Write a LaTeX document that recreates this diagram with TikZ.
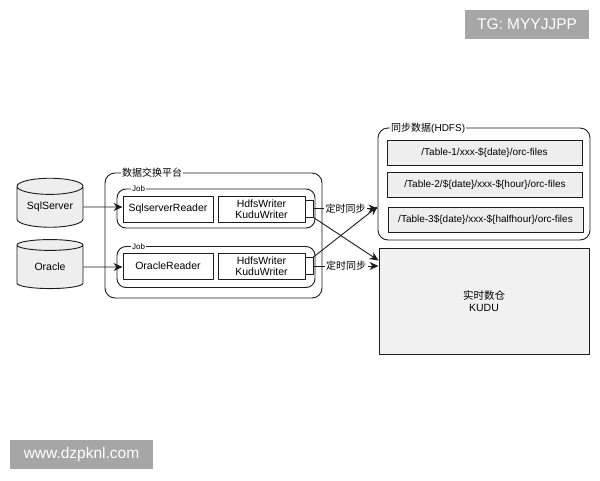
\documentclass[tikz,border=0pt]{standalone}
\usepackage{fontspec}
\setmainfont{Liberation Sans}
\newfontfamily\cjk{Noto Sans CJK SC}
\usetikzlibrary{arrows.meta,positioning,shapes.geometric}
\definecolor{edge}{RGB}{28,28,28}
\definecolor{paleg}{RGB}{238,238,238}
\definecolor{kudug}{RGB}{241,241,241}
\definecolor{markg}{RGB}{166,166,166}
\tikzset{
  panel/.style={draw=edge,line width=0.9pt,rounded corners=10pt,inner sep=0pt},
  tag/.style={fill=white,inner sep=1pt,anchor=west,font=\cjk\fontsize{10}{12}\selectfont},
  cell/.style={draw=edge,line width=0.9pt,fill=white,inner sep=0pt,minimum height=26pt,align=center,font=\fontsize{10.5}{11.5}\selectfont},
  port/.style={draw=edge,line width=0.9pt,fill=white,inner sep=0pt,minimum width=8pt,minimum height=17pt},
  filebox/.style={draw=edge,line width=0.9pt,fill=paleg,inner sep=0pt,minimum width=195pt,minimum height=25pt,font=\fontsize{10}{12}\selectfont},
  db/.style={cylinder,shape border rotate=90,aspect=0.35,draw=edge,line width=0.9pt,fill=paleg,minimum width=66pt,minimum height=49pt,inner sep=0pt,font=\fontsize{10.5}{12}\selectfont},
  arr/.style={-{Stealth[length=9pt,width=8pt]},draw=edge,line width=0.9pt},
  wmark/.style={fill=markg,text=white,inner sep=0pt,font=\fontsize{15.5}{18}\selectfont}
}
\begin{document}
\begin{tikzpicture}[x=1pt,y=-1pt,line join=round]
  \useasboundingbox[fill=white] (0,0) rectangle (600,480);

  % sources
  \node[db] (sqlsrv) at (50,207) {SqlServer};
  \node[db] (oracle) at (50,267) {Oracle};

  % exchange platform
  \node[panel,minimum width=217pt,minimum height=125pt] (plat) at (213.5,235.5) {};
  \node[tag] (platname) at (121,173) {数据交换平台};

  \node[panel,rounded corners=9pt,minimum width=198pt,minimum height=39pt] (job1) at (216,208.5) {};
  \node[tag,font=\fontsize{8}{9}\selectfont] (job1name) at (131,189) {Job};
  \node[cell,minimum width=90pt] (rd1) at (168,209) {SqlserverReader};
  \node[cell,minimum width=87pt] (wr1) at (261.5,209) {HdfsWriter\\KuduWriter};
  \node[port] (port1) at (309,208.5) {};

  \node[panel,rounded corners=9pt,minimum width=198pt,minimum height=41pt] (job2) at (216,267) {};
  \node[tag,font=\fontsize{8}{9}\selectfont] (job2name) at (131,246.5) {Job};
  \node[cell,minimum width=90pt] (rd2) at (168,266) {OracleReader};
  \node[cell,minimum width=87pt] (wr2) at (261.5,266) {HdfsWriter\\KuduWriter};
  \node[port] (port2) at (309,266) {};

  % targets
  \node[panel,minimum width=212pt,minimum height=112pt] (hdfs) at (484,184) {};
  \node[tag] (hdfsname) at (390,128) {同步数据{\fontspec{Liberation Sans}(HDFS)}};
  \node[filebox] (tab1) at (484.5,152.5) {/Table-1/xxx-\$\{date\}/orc-files};
  \node[filebox] (tab2) at (485,185) {/Table-2/\$\{date\}/xxx-\$\{hour\}/orc-files};
  \node[filebox] (tab3) at (485.5,219.5) {/Table-3\$\{date\}/xxx-\$\{halfhour\}/orc-files};

  \node[draw=edge,line width=0.9pt,fill=kudug,minimum width=210pt,minimum height=106pt,align=center,
        font=\fontsize{10.5}{12}\selectfont] (kudu) at (484,301) {{\cjk 实时数仓}\\KUDU};

  % flows
  \draw[arr] (sqlsrv) -- (rd1.west |- sqlsrv);
  \draw[arr] (oracle) -- (rd2.west |- oracle);
  \draw[arr] (port1) -- node[tag,anchor=center,inner sep=1.5pt]{定时同步} (port1 -| hdfs.west);
  \draw[arr] (port2) -- node[tag,anchor=center,inner sep=1.5pt]{定时同步} (port2 -| kudu.west);
  \draw[arr] (port1.south east) -- (kudu.159);
  \draw[arr] (port2.north east) -- (hdfs.192);

  % watermarks
  \node[wmark,minimum width=124pt,minimum height=29pt] (tgmark) at (527,24.5) {TG: MYYJJPP};
  \node[wmark,minimum width=143pt,minimum height=29pt] (webmark) at (81.5,454.5) {www.dzpknl.com};
\end{tikzpicture}
\end{document}
